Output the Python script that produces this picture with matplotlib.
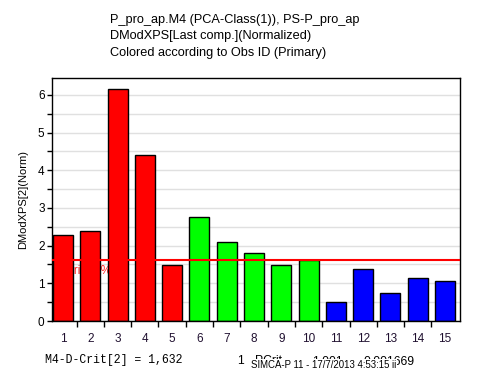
import matplotlib
matplotlib.use("Agg")
import matplotlib.pyplot as plt
import numpy as np
from matplotlib.ticker import MultipleLocator, FixedLocator, NullFormatter

obs = list(range(1, 16))
values = [2.28, 2.39, 6.16, 4.40, 1.48, 2.75, 2.10, 1.80, 1.49, 1.62, 0.50, 1.38, 0.75, 1.14, 1.06]
colors = ["#FF0000"] * 5 + ["#00FF00"] * 5 + ["#0000FF"] * 5
crit = 1.632

title_lines = ["P_pro_ap.M4 (PCA-Class(1)), PS-P_pro_ap",
               "DModXPS[Last comp.](Normalized)",
               "Colored according to Obs ID (Primary)"]
ylabel = "DModXPS[2](Norm)"
crit_label = "D-Crit(95%)"
footer_left = "M4-D-Crit[2] = 1,632"
footer_hidden = [("1", 237), ("PCrit", 255), ("1,001", 312), ("0,001669", 364)]
footer_stamp = "SIMCA-P 11 - 17/7/2013 4:53:15 ii"

plt.rcParams['font.family'] = ['Liberation Sans', 'DejaVu Sans']

fig = plt.figure(figsize=(4.84, 3.85), dpi=100)
ax = fig.add_axes([51.5/484, 1-321/385, (459.5-51.5)/484, (321-78)/385])

ax.set_ylim(0, 6.45)
ax.set_xlim(0.58, 15.53)

ax.yaxis.set_major_locator(MultipleLocator(1))
ax.yaxis.set_minor_locator(MultipleLocator(0.5))
ax.grid(True, axis='y', which='both', color='#e0e0e0', linewidth=1.0, zorder=0)
ax.set_axisbelow(True)

ax.text(0.63, 1.33, crit_label, color='#FF2020', fontsize=8.5, va='center', ha='left', zorder=1)

ax.bar(obs, values, width=0.73, color=colors, edgecolor='black', linewidth=1.0, zorder=2)
ax.axhline(crit, color='#FF0000', linewidth=1.5, zorder=3)

ax.xaxis.set_major_locator(FixedLocator(obs))
ax.set_xticklabels([str(o) for o in obs])
ax.tick_params(axis='x', which='major', length=0, pad=9, labelsize=8.5, labelcolor='#201030')
ax.xaxis.set_minor_locator(FixedLocator(np.arange(1.5, 15.5, 1.0)))
ax.xaxis.set_minor_formatter(NullFormatter())
ax.tick_params(axis='x', which='minor', length=4, width=1, direction='out')
ax.tick_params(axis='y', which='both', length=3.5, width=1, direction='out', pad=1.5, labelsize=8.5)

for s in ax.spines.values():
    s.set_linewidth(1.0)
    s.set_color('black')

ax.set_ylabel(ylabel, fontsize=8)
ax.yaxis.set_label_coords((28-51.5)/408, 0.5)

for i, line in enumerate(title_lines):
    fig.text(110/484, 1-(20+i*16.5)/385, line, fontsize=9.2, ha='left', va='center')

fig.text(45/484, 1-360/385, footer_left, fontsize=8.3, family='Liberation Mono', ha='left', va='center')
for txt, xp in footer_hidden:
    fig.text(xp/484, 1-361/385, txt, fontsize=8.7, ha='left', va='center')
fig.text(251/484, 1-365.5/385, footer_stamp, fontsize=6.9, ha='left', va='center',
         bbox=dict(facecolor='white', edgecolor='none', pad=0.8))

fig.savefig("out.png", dpi=100)
